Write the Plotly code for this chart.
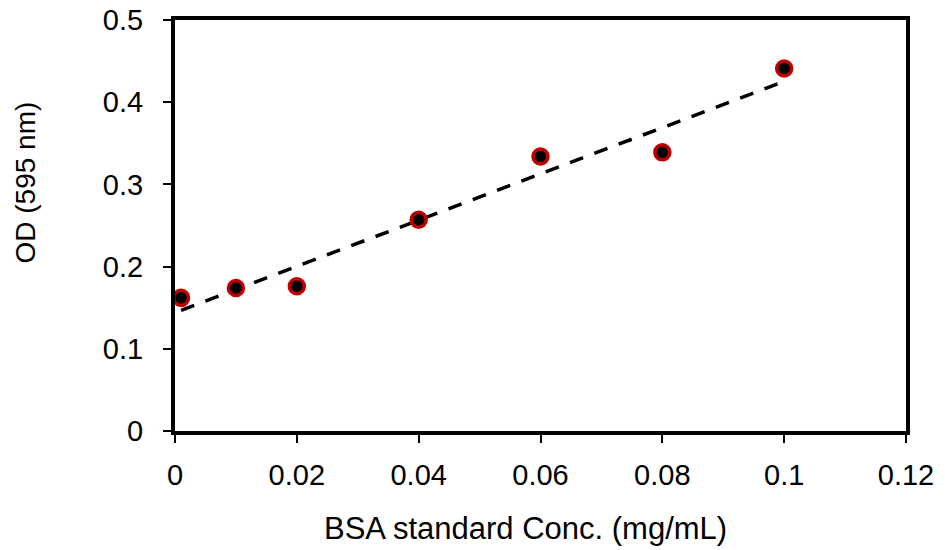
import numpy as np
import plotly.graph_objects as go

conc = [0.001, 0.01, 0.02, 0.04, 0.06, 0.08, 0.1]
od = [0.162, 0.174, 0.176, 0.257, 0.334, 0.339, 0.441]
x_title = "BSA standard Conc. (mg/mL)"
y_title = "OD (595 nm)"

slope, intercept = np.polyfit(conc, od, 1)
fit_x = [min(conc), max(conc)]
fit_y = [slope * v + intercept for v in fit_x]

font = "Liberation Sans, Arial, sans-serif"

fig = go.Figure()
fig.add_trace(go.Scatter(x=fit_x, y=fit_y, mode="lines",
                         line=dict(color="black", width=3.5, dash="14px,12px"),
                         showlegend=False, hoverinfo="skip"))
fig.add_trace(go.Scatter(x=conc, y=od, mode="markers",
                         marker=dict(size=15, color="black",
                                     line=dict(color="#c00000", width=3.5)),
                         showlegend=False))

axis_common = dict(showline=True, linewidth=4, linecolor="black", mirror=True,
                   ticks="outside", ticklen=8, tickwidth=2, tickcolor="black",
                   showgrid=False, zeroline=False, automargin=False,
                   tickfont=dict(family=font, size=29, color="black"))

fig.update_layout(
    width=945, height=550,
    margin=dict(l=175, r=39, t=20, b=119),
    paper_bgcolor="white", plot_bgcolor="white",
    xaxis=dict(range=[0, 0.12], dtick=0.02, tick0=0,
               ticklabelstandoff=7, **axis_common),
    yaxis=dict(range=[0, 0.5], dtick=0.1, tick0=0,
               ticklabelstandoff=14, **axis_common),
    annotations=[
        dict(text=x_title, xref="paper", yref="paper", x=0.5, y=0,
             xanchor="center", yanchor="middle", xshift=-15, yshift=-97,
             showarrow=False, font=dict(family=font, size=31, color="black")),
        dict(text=y_title, xref="paper", yref="paper", x=0, y=0.5,
             xanchor="center", yanchor="middle", xshift=-150, yshift=43,
             textangle=-90, showarrow=False,
             font=dict(family=font, size=28, color="black")),
    ],
)

fig.write_html("out.html", config={"displayModeBar": False},
               post_script="document.body.style.margin='0';")
